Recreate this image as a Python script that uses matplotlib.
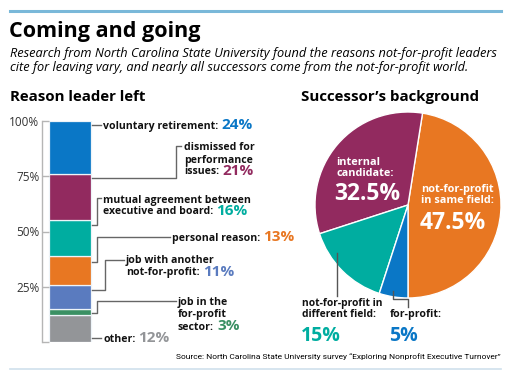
import numpy as np
import matplotlib.pyplot as plt
from matplotlib.lines import Line2D

# data
reasons = ['other', 'job in the\nfor-profit\nsector', 'job with another\nnot-for-profit',
           'personal reason', 'mutual agreement between\nexecutive and board',
           'dismissed for\nperformance\nissues', 'voluntary retirement']
reason_pct = [12, 3, 11, 13, 16, 21, 24]
reason_colors = ['#939598', '#3a9063', '#5a7bbf', '#e87722', '#00ada0', '#922a5f', '#0a77c6']

successors = ['not-for-profit\nin same field', 'internal\ncandidate',
              'not-for-profit in\ndifferent field', 'for-profit']
successor_pct = [47.5, 32.5, 15, 5]
successor_colors = ['#e87722', '#922a5f', '#00ada0', '#0a77c6']

W, H = 511, 380
fig = plt.figure(figsize=(W / 100, H / 100), dpi=100)
plt.rcParams['font.family'] = ['Open Sans', 'DejaVu Sans']


def fx(px):
    return px / W


def fy(py):
    return 1 - py / H


# rules top / bottom
fig.add_artist(Line2D([fx(10), fx(501)], [fy(11), fy(11)], color='#7ab8d9', lw=2.2))
fig.add_artist(Line2D([fx(10), fx(501)], [fy(369), fy(369)], color='#cfe0ec', lw=1.2))

fig.text(fx(9), fy(31), 'Coming and going', fontsize=15.5, fontweight='bold', va='center')
fig.text(fx(10), fy(53), 'Research from North Carolina State University found the reasons not-for-profit leaders',
         fontsize=9.2, style='italic', va='center')
fig.text(fx(10), fy(68), 'cite for leaving vary, and nearly all successors come from the not-for-profit world.',
         fontsize=9.2, style='italic', va='center')
fig.text(fx(10), fy(97), 'Reason leader left', fontsize=10.8, fontweight='bold', va='center')
fig.text(fx(390), fy(97), 'Successor\u2019s background', fontsize=10.8, fontweight='bold',
         va='center', ha='center')
src = fig.text(fx(501), fy(357), 'Source: North Carolina State University survey \u201cExploring Nonprofit Executive Turnover\u201d',
               fontsize=6.3, ha='right', va='center', family=['Roboto', 'DejaVu Sans'])
fig.canvas.draw()
sw = src.get_window_extent().width
src.set_fontsize(6.3 * 323 / sw)

# ---- stacked bar ----
ax = fig.add_axes([fx(42), fy(342), fx(260 - 42), (342 - 121) / H])
ax.set_xlim(42, 260)
ax.set_ylim(0, 100)
bottoms = np.concatenate([[0], np.cumsum(reason_pct)[:-1]])
ax.bar(49, reason_pct, bottom=bottoms, width=42, align='edge', color=reason_colors,
       edgecolor='#eef4f8', linewidth=0.9)
for s in ['top', 'right', 'bottom']:
    ax.spines[s].set_visible(False)
ax.spines['left'].set_color('#b5b5b5')
ax.spines['left'].set_linewidth(1)
ax.set_xticks([])
ax.set_yticks([0, 25, 50, 75, 100])
ax.set_yticklabels(['', '25%', '50%', '75%', '100%'])
ax.tick_params(axis='y', direction='in', length=5, width=1, color='#b5b5b5',
               labelsize=8.5, labelcolor='#333333', pad=2)


def pct(py):
    return (342 - py) / 2.21


# leader lines: path (pixel x, pixel y), label x, label centre y, index
leaders = [
    ([(92, 125), (101, 125)], 103, 125, 6),
    ([(92, 178), (176, 178), (176, 146), (181, 146)], 184, 159, 5),
    ([(92, 225), (97, 225), (97, 198), (101, 198)], 103, 205, 4),
    ([(92, 262), (97, 262), (97, 237), (170, 237)], 172, 237, 3),
    ([(92, 290), (105, 290), (105, 260), (124, 260)], 126, 266, 2),
    ([(92, 313), (97, 313), (97, 301), (176, 301)], 178, 314, 1),
    ([(92, 338), (101, 338)], 103, 338, 0),
]
for path, tx, ty, i in leaders:
    xs = [p[0] for p in path]
    ys = [pct(p[1]) for p in path]
    ax.plot(xs, ys, color='#666666', lw=1, clip_on=False)
    lines = reasons[i].split('\n')
    n = len(lines)
    lh = 12
    for k, ln in enumerate(lines):
        yy = ty + (k - (n - 1) / 2) * lh + 3.5
        t = ln + (':' if k == n - 1 else '')
        txt = ax.text(tx, pct(yy), t, fontsize=7.6, fontweight='bold', va='baseline',
                      color='#111111', clip_on=False)
        if k == n - 1:
            fig.canvas.draw()
            bb = txt.get_window_extent()
            x_end = ax.transData.inverted().transform((bb.x1, bb.y0))[0]
            ax.text(x_end + 3, pct(yy + 0.5), f'{reason_pct[i]}%', fontsize=11,
                    fontweight='bold', va='baseline', color=reason_colors[i], clip_on=False)

# ---- pie ----
cx, cy, r = 408, 205, 93
pax = fig.add_axes([fx(cx - r), fy(cy + r), 2 * r / W, 2 * r / H])
pax.pie(successor_pct, colors=successor_colors, startangle=-90, counterclock=True,
        wedgeprops=dict(edgecolor='white', linewidth=1))
pax.set_xlim(-1, 1)
pax.set_ylim(-1, 1)
pax.set_aspect('auto')


def px_(x):
    return (x - cx) / r


def py_(y):
    return (cy - y) / r


pax.text(px_(336), py_(168), successors[1] + ':', color='white', fontsize=7.8,
         fontweight='bold', va='center', linespacing=1.05)
pax.text(px_(334), py_(194), f'{successor_pct[1]}%', color='white', fontsize=16.5,
         fontweight='bold', va='center')
pax.text(px_(421), py_(195), successors[0] + ':', color='white', fontsize=7.8,
         fontweight='bold', va='center', linespacing=1.05)
pax.text(px_(420), py_(223), f'{successor_pct[0]}%', color='white', fontsize=16.5,
         fontweight='bold', va='center')

pax.text(px_(302), py_(309), successors[2] + ':', color='#111111', fontsize=7.4,
         fontweight='bold', va='center', linespacing=1.05, clip_on=False)
pax.text(px_(301), py_(336), f'{successor_pct[2]:g}%', color=successor_colors[2], fontsize=14,
         fontweight='bold', va='center', clip_on=False)
pax.plot([px_(337), px_(337)], [py_(253), py_(296)], color='#555555', lw=1, clip_on=False)

pax.text(px_(390), py_(315), successors[3] + ':', color='#111111', fontsize=7.6,
         fontweight='bold', va='center', clip_on=False)
pax.text(px_(389), py_(336), f'{successor_pct[3]:g}%', color=successor_colors[3], fontsize=14,
         fontweight='bold', va='center', clip_on=False)
pax.plot([px_(393), px_(393), px_(408), px_(408)],
         [py_(291), py_(299), py_(299), py_(307)], color='#555555', lw=1, clip_on=False)

fig.savefig('out.png', dpi=100)
